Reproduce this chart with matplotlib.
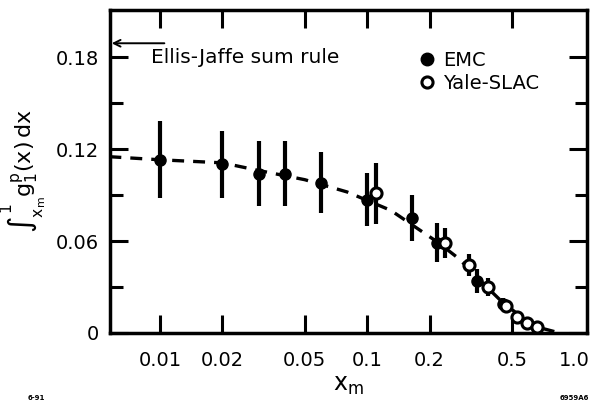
import matplotlib
matplotlib.use("Agg")
import matplotlib.pyplot as plt
from matplotlib.ticker import FixedLocator, NullLocator, FixedFormatter
from matplotlib.lines import Line2D

plt.rcParams['font.family'] = ['DejaVu Sans']
plt.rcParams['mathtext.fontset'] = 'dejavusans'

# EMC data
emc_x = [0.01, 0.02, 0.03, 0.04, 0.06, 0.10, 0.165, 0.217, 0.34, 0.45]
emc_y = [0.113, 0.110, 0.104, 0.104, 0.098, 0.087, 0.075, 0.059, 0.034, 0.019]
emc_err = [0.025, 0.022, 0.021, 0.021, 0.020, 0.0175, 0.015, 0.013, 0.008, 0.004]

# Yale-SLAC data
ys_x = [0.11, 0.237, 0.31, 0.383, 0.47, 0.53, 0.59, 0.66]
ys_y = [0.091, 0.0587, 0.0443, 0.030, 0.0176, 0.0104, 0.0065, 0.0039]
ys_err = [0.020, 0.010, 0.007, 0.006, 0.003, 0.002, 0.002, 0.001]

# dashed curve
fit_x = [0.0057, 0.01, 0.02, 0.03, 0.05, 0.08, 0.13, 0.18, 0.22, 0.28, 0.34, 0.45, 0.6, 0.7, 0.85]
fit_y = [0.115, 0.113, 0.111, 0.106, 0.100, 0.092, 0.080, 0.067, 0.059, 0.048, 0.036, 0.020, 0.007, 0.003, 0.0]

ellis_jaffe = 0.189

xticks = [0.01, 0.02, 0.05, 0.1, 0.2, 0.5, 1.0]
xticklabels = ['0.01', '0.02', '0.05', '0.1', '0.2', '0.5', '1.0']
yticks = [0, 0.06, 0.12, 0.18]
yticklabels = ['0', '0.06', '0.12', '0.18']
yminor = [0.03, 0.09, 0.15]

fig = plt.figure(figsize=(5.97, 4.03), dpi=100)
ax = fig.add_axes([110/597, 70/403, 477/597, 323/403])

ax.set_xscale('log')
ax.set_xlim(0.00574, 1.15)
ax.set_ylim(0, 0.2107)

lw_fit = 2.4
ax.plot(fit_x, fit_y, color='black', lw=lw_fit, ls=(0, (8.6/lw_fit, 6.5/lw_fit)),
        solid_capstyle='butt', dash_capstyle='butt', zorder=2)

ax.errorbar(emc_x, emc_y, yerr=emc_err, fmt='o', color='black', ms=8,
            elinewidth=3, capsize=0, zorder=3)
ax.errorbar(ys_x, ys_y, yerr=ys_err, fmt='o', color='black', mfc='white', mec='black',
            mew=2.2, ms=8, elinewidth=3, capsize=0, zorder=4)

# Ellis-Jaffe arrow
ax.annotate('', xy=(0.00585, ellis_jaffe), xytext=(0.0105, ellis_jaffe),
            arrowprops=dict(arrowstyle='->', color='black', lw=1.4,
                            shrinkA=0, shrinkB=0, mutation_scale=12))
ax.text(0.0091, 0.18, 'Ellis-Jaffe sum rule', fontsize=14.5, va='center', ha='left')

# legend
handles = [Line2D([], [], ls='none', marker='o', color='black', ms=9),
           Line2D([], [], ls='none', marker='o', mfc='white', mec='black', mew=2.2, ms=8)]
ax.legend(handles, ['EMC', 'Yale-SLAC'], loc='upper left', bbox_to_anchor=(0.62, 0.915),
          frameon=False, fontsize=14, handlelength=0.8, handletextpad=0.4,
          labelspacing=0.2, borderpad=0.2)

# ticks
ax.xaxis.set_major_locator(FixedLocator(xticks))
ax.xaxis.set_major_formatter(FixedFormatter(xticklabels))
ax.xaxis.set_minor_locator(NullLocator())
ax.yaxis.set_major_locator(FixedLocator(yticks))
ax.yaxis.set_major_formatter(FixedFormatter(yticklabels))
ax.yaxis.set_minor_locator(FixedLocator(yminor))

ax.tick_params(which='both', direction='in', top=True, right=True, width=2.2, labelsize=14)
ax.tick_params(axis='x', which='major', length=13, pad=13)
ax.tick_params(axis='y', which='major', length=13, pad=8)
ax.tick_params(axis='y', which='minor', length=9)
for t in ax.xaxis.get_major_ticks()[-1:]:
    t.tick1line.set_visible(False)
    t.tick2line.set_visible(False)

for s in ax.spines.values():
    s.set_linewidth(2.5)

ax.set_xlabel(r'$\mathrm{x}_{\mathrm{m}}$', fontsize=17, labelpad=2)
ax.set_ylabel(r'$\int_{\mathrm{x_m}}^{1}\mathrm{g}_1^{\mathrm{p}}\mathrm{(x)\,dx}$',
              fontsize=16)
ax.yaxis.set_label_coords(-0.128, 0.50)

fig.text(28/597, 1 - 398/403, '6-91', fontsize=5, fontweight='bold', ha='left', va='center')
fig.text(560/597, 1 - 398/403, '6959A6', fontsize=5, fontweight='bold', ha='left', va='center')

fig.savefig('out.png', dpi=100)
